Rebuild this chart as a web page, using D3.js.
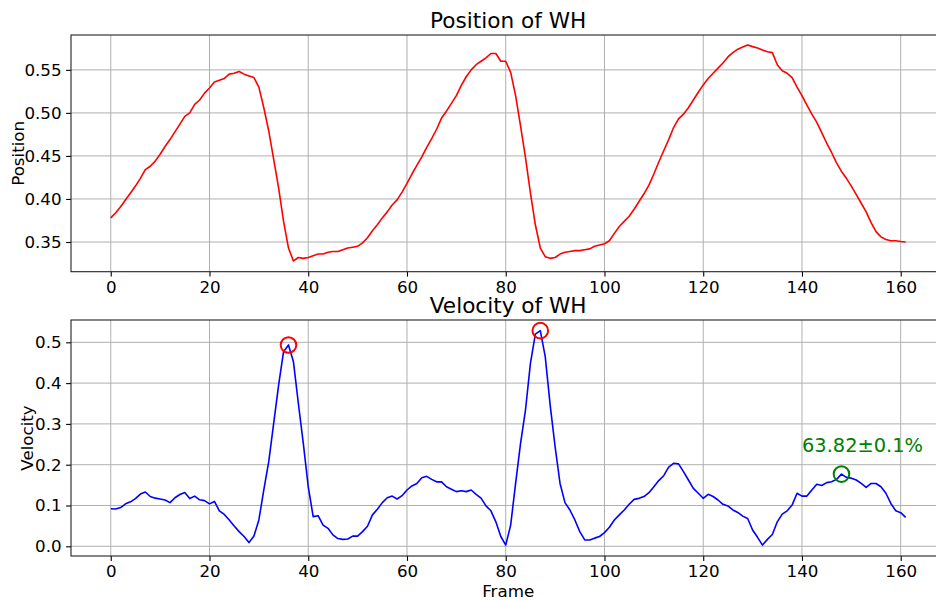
<!DOCTYPE html>
<html>
<head>
<meta charset="utf-8">
<script src="https://cdn.jsdelivr.net/npm/d3@7"></script>
<style>
  html, body { margin: 0; padding: 0; background: #fff; overflow: hidden; }
  svg { display: block; font-family: "DejaVu Sans", sans-serif; }
</style>
</head>
<body>
<svg id="chart" width="936" height="600"></svg>
<script>
const frames = d3.range(0, 162);
const position = [
  0.378,0.384,0.391,0.399,0.407,0.415,0.424,0.434,0.438,0.444,
  0.452,0.461,0.469,0.478,0.487,0.496,0.500,0.510,0.515,0.523,
  0.529,0.536,0.538,0.540,0.545,0.546,0.548,0.545,0.543,0.541,
  0.530,0.506,0.479,0.446,0.413,0.374,0.343,0.328,0.332,0.331,
  0.332,0.334,0.336,0.336,0.338,0.339,0.339,0.341,0.343,0.344,
  0.345,0.349,0.355,0.363,0.370,0.378,0.385,0.393,0.399,0.408,
  0.418,0.429,0.439,0.449,0.460,0.470,0.481,0.494,0.502,0.511,
  0.520,0.532,0.542,0.550,0.556,0.560,0.564,0.569,0.569,0.560,
  0.560,0.547,0.520,0.485,0.448,0.407,0.370,0.343,0.333,0.331,
  0.332,0.336,0.338,0.339,0.340,0.340,0.341,0.342,0.345,0.3465,
  0.348,0.3515,0.360,0.368,0.374,0.380,0.388,0.397,0.406,0.416,
  0.429,0.443,0.456,0.469,0.483,0.493,0.4985,0.506,0.515,0.524,
  0.5325,0.540,0.546,0.552,0.558,0.565,0.570,0.574,0.5765,0.579,
  0.577,0.5755,0.573,0.571,0.570,0.556,0.549,0.546,0.541,0.530,
  0.520,0.509,0.4985,0.489,0.477,0.465,0.454,0.442,0.432,0.424,
  0.415,0.405,0.395,0.385,0.3725,0.362,0.356,0.353,0.3515,0.3515,
  0.3505,0.350
];
const velocity = [
  0.092,0.0915,0.095,0.104,0.109,0.117,0.128,0.133,0.122,0.118,
  0.116,0.1135,0.107,0.119,0.127,0.132,0.117,0.123,0.114,0.112,
  0.104,0.110,0.087,0.078,0.0645,0.050,0.036,0.024,0.009,0.025,
  0.0645,0.138,0.2075,0.3015,0.395,0.477,0.4935,0.4525,0.350,0.2525,
  0.146,0.0727,0.075,0.052,0.044,0.028,0.019,0.017,0.018,0.025,
  0.025,0.036,0.049,0.077,0.091,0.107,0.119,0.123,0.116,0.124,
  0.138,0.148,0.154,0.168,0.1715,0.164,0.158,0.158,0.146,0.140,
  0.134,0.136,0.134,0.138,0.1275,0.118,0.099,0.087,0.060,0.024,
  0.003,0.052,0.154,0.2525,0.334,0.4485,0.520,0.5286,0.465,0.346,
  0.244,0.154,0.107,0.089,0.0645,0.036,0.0155,0.0155,0.020,0.024,
  0.0335,0.0465,0.0645,0.077,0.089,0.103,0.115,0.1175,0.122,0.1315,
  0.146,0.161,0.173,0.194,0.2035,0.202,0.183,0.1625,0.142,0.130,
  0.1176,0.1275,0.122,0.1135,0.103,0.099,0.089,0.083,0.074,0.068,
  0.040,0.022,0.003,0.017,0.029,0.060,0.079,0.087,0.101,0.130,
  0.123,0.123,0.138,0.152,0.149,0.156,0.158,0.164,0.177,0.169,
  0.167,0.1625,0.154,0.1445,0.154,0.154,0.146,0.130,0.105,0.087,
  0.0825,0.071
];
const xTicks = [0, 20, 40, 60, 80, 100, 120, 140, 160];
const posTicks = [0.35, 0.40, 0.45, 0.50, 0.55];
const velTicks = [0.0, 0.1, 0.2, 0.3, 0.4, 0.5];
const peakFrames = [36, 87];
const markFrame = 148;
const markLabel = "63.82\u00b10.1%";
const markLabelFrame = 140;
const markLabelValue = 0.232;

const svg = d3.select("#chart");
const left = 71, right = 945.4;
const x = d3.scaleLinear().domain([-8.05, 169.05]).range([left, right]);

function panel(cfg) {
  const g = svg.append("g");
  const y = d3.scaleLinear().domain(cfg.ydom).range([cfg.bottom, cfg.top]);
  g.append("g").selectAll("line").data(xTicks).join("line")
    .attr("x1", d => x(d)).attr("x2", d => x(d))
    .attr("y1", cfg.top).attr("y2", cfg.bottom)
    .attr("stroke", "#b0b0b0").attr("stroke-width", 1);
  g.append("g").selectAll("line").data(cfg.yticks).join("line")
    .attr("x1", left).attr("x2", right)
    .attr("y1", d => y(d)).attr("y2", d => y(d))
    .attr("stroke", "#b0b0b0").attr("stroke-width", 1);
  const xa = g.append("g").attr("transform", `translate(0,${cfg.bottom})`)
    .call(d3.axisBottom(x).tickValues(xTicks).tickSize(4.9).tickPadding(4.5).tickFormat(d3.format("d")));
  const ya = g.append("g").attr("transform", `translate(${left},0)`)
    .call(d3.axisLeft(y).tickValues(cfg.yticks).tickSize(4.9).tickPadding(4.5).tickFormat(d3.format(cfg.fmt)));
  [xa, ya].forEach(a => {
    a.select(".domain").remove();
    a.selectAll("text").attr("font-size", "16.7px").attr("fill", "#000").attr("font-family", "DejaVu Sans");
    a.selectAll("line").attr("stroke", "#000").attr("stroke-width", 1.1);
  });
  g.append("rect").attr("x", left).attr("y", cfg.top)
    .attr("width", right - left).attr("height", cfg.bottom - cfg.top)
    .attr("fill", "none").attr("stroke", "#222").attr("stroke-width", 1.1);
  const line = d3.line().x((d, i) => x(frames[i])).y(d => y(d));
  g.append("path").datum(cfg.data).attr("d", line)
    .attr("fill", "none").attr("stroke", cfg.color).attr("stroke-width", 1.6)
    .attr("stroke-linejoin", "round");
  g.append("text").attr("x", (left + right) / 2).attr("y", cfg.top - 7)
    .attr("text-anchor", "middle").attr("font-size", "21.6px").attr("fill", "#000")
    .text(cfg.title);
  g.append("text").attr("transform", `translate(${cfg.ylabX},${(cfg.top + cfg.bottom) / 2}) rotate(-90)`)
    .attr("text-anchor", "middle").attr("font-size", "16.7px").attr("fill", "#000")
    .text(cfg.ylabel);
  return {g, y};
}

panel({top: 35, bottom: 271.7, ydom: [0.3155, 0.5905], yticks: posTicks, fmt: ".2f",
  data: position, color: "#ff0000", title: "Position of WH", ylabel: "Position", ylabX: 24});
const vp = panel({top: 320, bottom: 556, ydom: [-0.0238, 0.5547], yticks: velTicks, fmt: ".1f",
  data: velocity, color: "#0000ff", title: "Velocity of WH", ylabel: "Velocity", ylabX: 33});

vp.g.selectAll("circle.peak").data(peakFrames).join("circle").attr("class", "peak")
  .attr("cx", d => x(d)).attr("cy", d => vp.y(velocity[d])).attr("r", 7.8)
  .attr("fill", "none").attr("stroke", "#ff0000").attr("stroke-width", 2);
vp.g.append("circle")
  .attr("cx", x(markFrame)).attr("cy", vp.y(velocity[markFrame])).attr("r", 7.8)
  .attr("fill", "none").attr("stroke", "#008000").attr("stroke-width", 2);
vp.g.append("text").attr("x", x(markLabelFrame)).attr("y", vp.y(markLabelValue))
  .attr("font-size", "19.4px").attr("fill", "#008000").text(markLabel);

svg.append("text").attr("x", (left + right) / 2).attr("y", 597)
  .attr("text-anchor", "middle").attr("font-size", "16.7px").attr("fill", "#000").text("Frame");
</script>
</body>
</html>
